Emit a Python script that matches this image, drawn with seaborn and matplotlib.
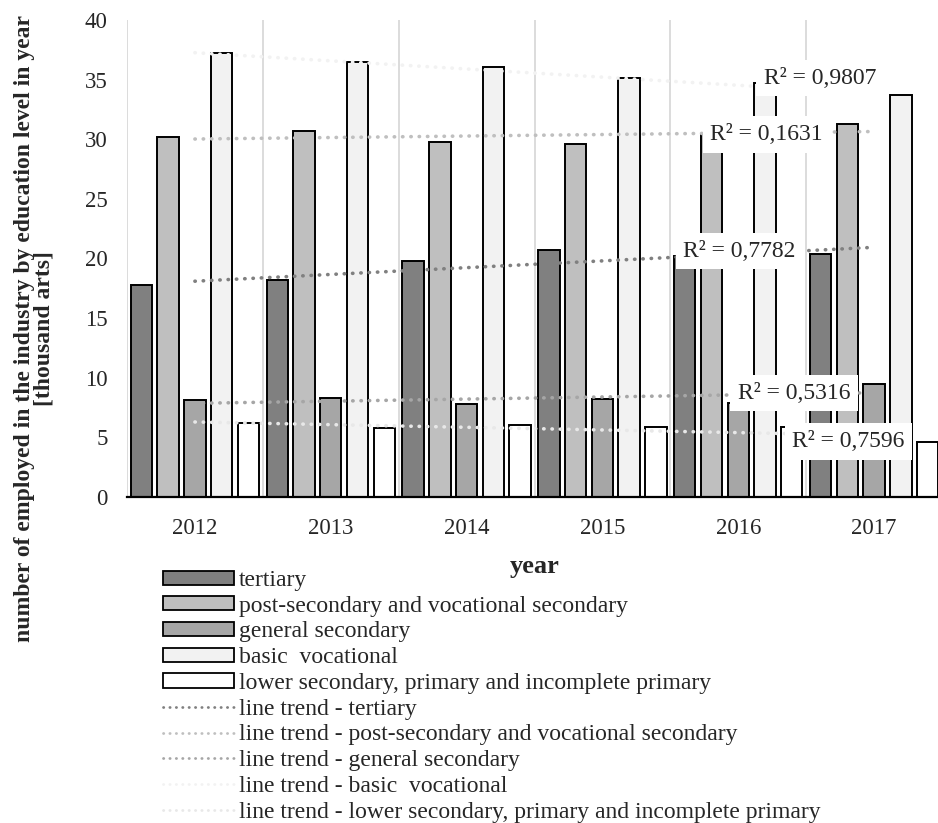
import numpy as np
import pandas as pd
import matplotlib
matplotlib.use("Agg")
import matplotlib.pyplot as plt
from matplotlib.patches import Patch
from matplotlib.lines import Line2D
import seaborn as sns

# ---------------- data ----------------
years = ["2012", "2013", "2014", "2015", "2016", "2017"]
levels = [
    "tertiary",
    "post-secondary and vocational secondary",
    "general secondary",
    "basic  vocational",
    "lower secondary, primary and incomplete primary",
]
tertiary = [17.8, 18.2, 19.8, 20.7, 20.2, 20.4]
post_secondary = [30.2, 30.7, 29.8, 29.6, 30.4, 31.3]
general_secondary = [8.1, 8.3, 7.8, 8.2, 7.9, 9.5]
basic_vocational = [37.2, 36.5, 36.1, 35.1, 34.7, 33.7]
lower_secondary = [6.2, 5.8, 6.0, 5.9, 5.9, 4.6]
r2_labels = ["R² = 0,7782", "R² = 0,1631", "R² = 0,5316", "R² = 0,9807", "R² = 0,7596"]
y_ticks = [0, 5, 10, 15, 20, 25, 30, 35, 40]

series = [tertiary, post_secondary, general_secondary, basic_vocational, lower_secondary]

# ---------------- style ----------------
bar_colors = ["#808080", "#bfbfbf", "#a6a6a6", "#f2f2f2", "#ffffff"]
trend_colors = ["#808080", "#bfbfbf", "#a6a6a6", "#f2f2f2", "#e8e8e8"]
# label centres (data coords) for the R² boxes
r2_pos = [(4.01, 20.6), (4.21, 30.4), (4.41, 8.7), (4.60, 35.1), (4.81, 4.65)]

sns.set_style("white")
plt.rcParams["font.family"] = ["Liberation Serif", "DejaVu Serif"]
FS = 16.5
FS_LEG = 17

rows = []
for lvl, vals in zip(levels, series):
    for yr, v in zip(years, vals):
        rows.append({"year": yr, "level": lvl, "value": v})
df = pd.DataFrame(rows)

fig = plt.figure(figsize=(9.38, 8.23), dpi=100)
ax = fig.add_axes([127 / 938, (823 - 497) / 823, 815 / 938, 477 / 823])

sns.barplot(data=df, x="year", y="value", hue="level", order=years, hue_order=levels,
            palette=bar_colors, width=0.985, gap=0.2, edgecolor="black",
            linewidth=1.4, saturation=1, legend=False, ax=ax, zorder=2)

# vertical gridlines at category boundaries
for b in np.arange(-0.5, len(years), 1.0):
    ax.axvline(b, color="#d9d9d9", lw=1.3, zorder=0)

# trend lines (linear fits over category index)
xs = np.arange(len(years))
for i in range(len(series)):
    k, c = np.polyfit(xs, series[i], 1)
    ax.plot([xs[0], xs[-1]], [c + k * xs[0], c + k * xs[-1]], color=trend_colors[i],
            lw=2.6, linestyle=(0, (0.1, 2.2)), dash_capstyle="round", zorder=3)

# R² labels
for lab, (px, py) in zip(r2_labels, r2_pos):
    ax.text(px, py, lab, ha="center", va="center", fontsize=FS_LEG, zorder=5,
            bbox=dict(facecolor="white", edgecolor="none", pad=5.5))

ax.set_xlim(-0.5, len(years) - 0.5)
ax.set_ylim(0, 40)
ax.set_yticks(y_ticks)
ax.set_yticklabels([str(t) for t in y_ticks])
ax.tick_params(axis="both", length=0, labelsize=FS)
ax.tick_params(axis="y", pad=14)
ax.tick_params(axis="x", pad=15)
for s in ["left", "right", "top"]:
    ax.spines[s].set_visible(False)
ax.spines["bottom"].set_color("black")
ax.spines["bottom"].set_linewidth(1.6)
ax.spines["bottom"].set_zorder(4)
ax.set_ylabel("")
ax.set_xlabel("year", fontsize=19, fontweight="bold", labelpad=12)

fig.text(0.0365, 0.601,
         "number of employed in the industry by education level in year\n[thousand arts]",
         rotation=90, ha="center", va="center", multialignment="center",
         fontsize=17, fontweight="bold", linespacing=0.95)

# legend
handles = []
for lvl, col in zip(levels, bar_colors):
    handles.append(Patch(facecolor=col, edgecolor="black", linewidth=1.3, label=lvl))
for lvl, col in zip(levels, trend_colors):
    handles.append(Line2D([0], [0], color=col, lw=2.0, linestyle=(0, (0.1, 2.2)),
                          dash_capstyle="round", label="line trend - " + lvl))
leg = fig.legend(handles=handles, loc="upper left", bbox_to_anchor=(0.1735, 0.3074),
                 frameon=False, fontsize=FS_LEG, handlelength=3.0, handleheight=0.55,
                 handletextpad=0.22, labelspacing=0.2, borderpad=0, borderaxespad=0)

fig.savefig("out.png", dpi=100)
